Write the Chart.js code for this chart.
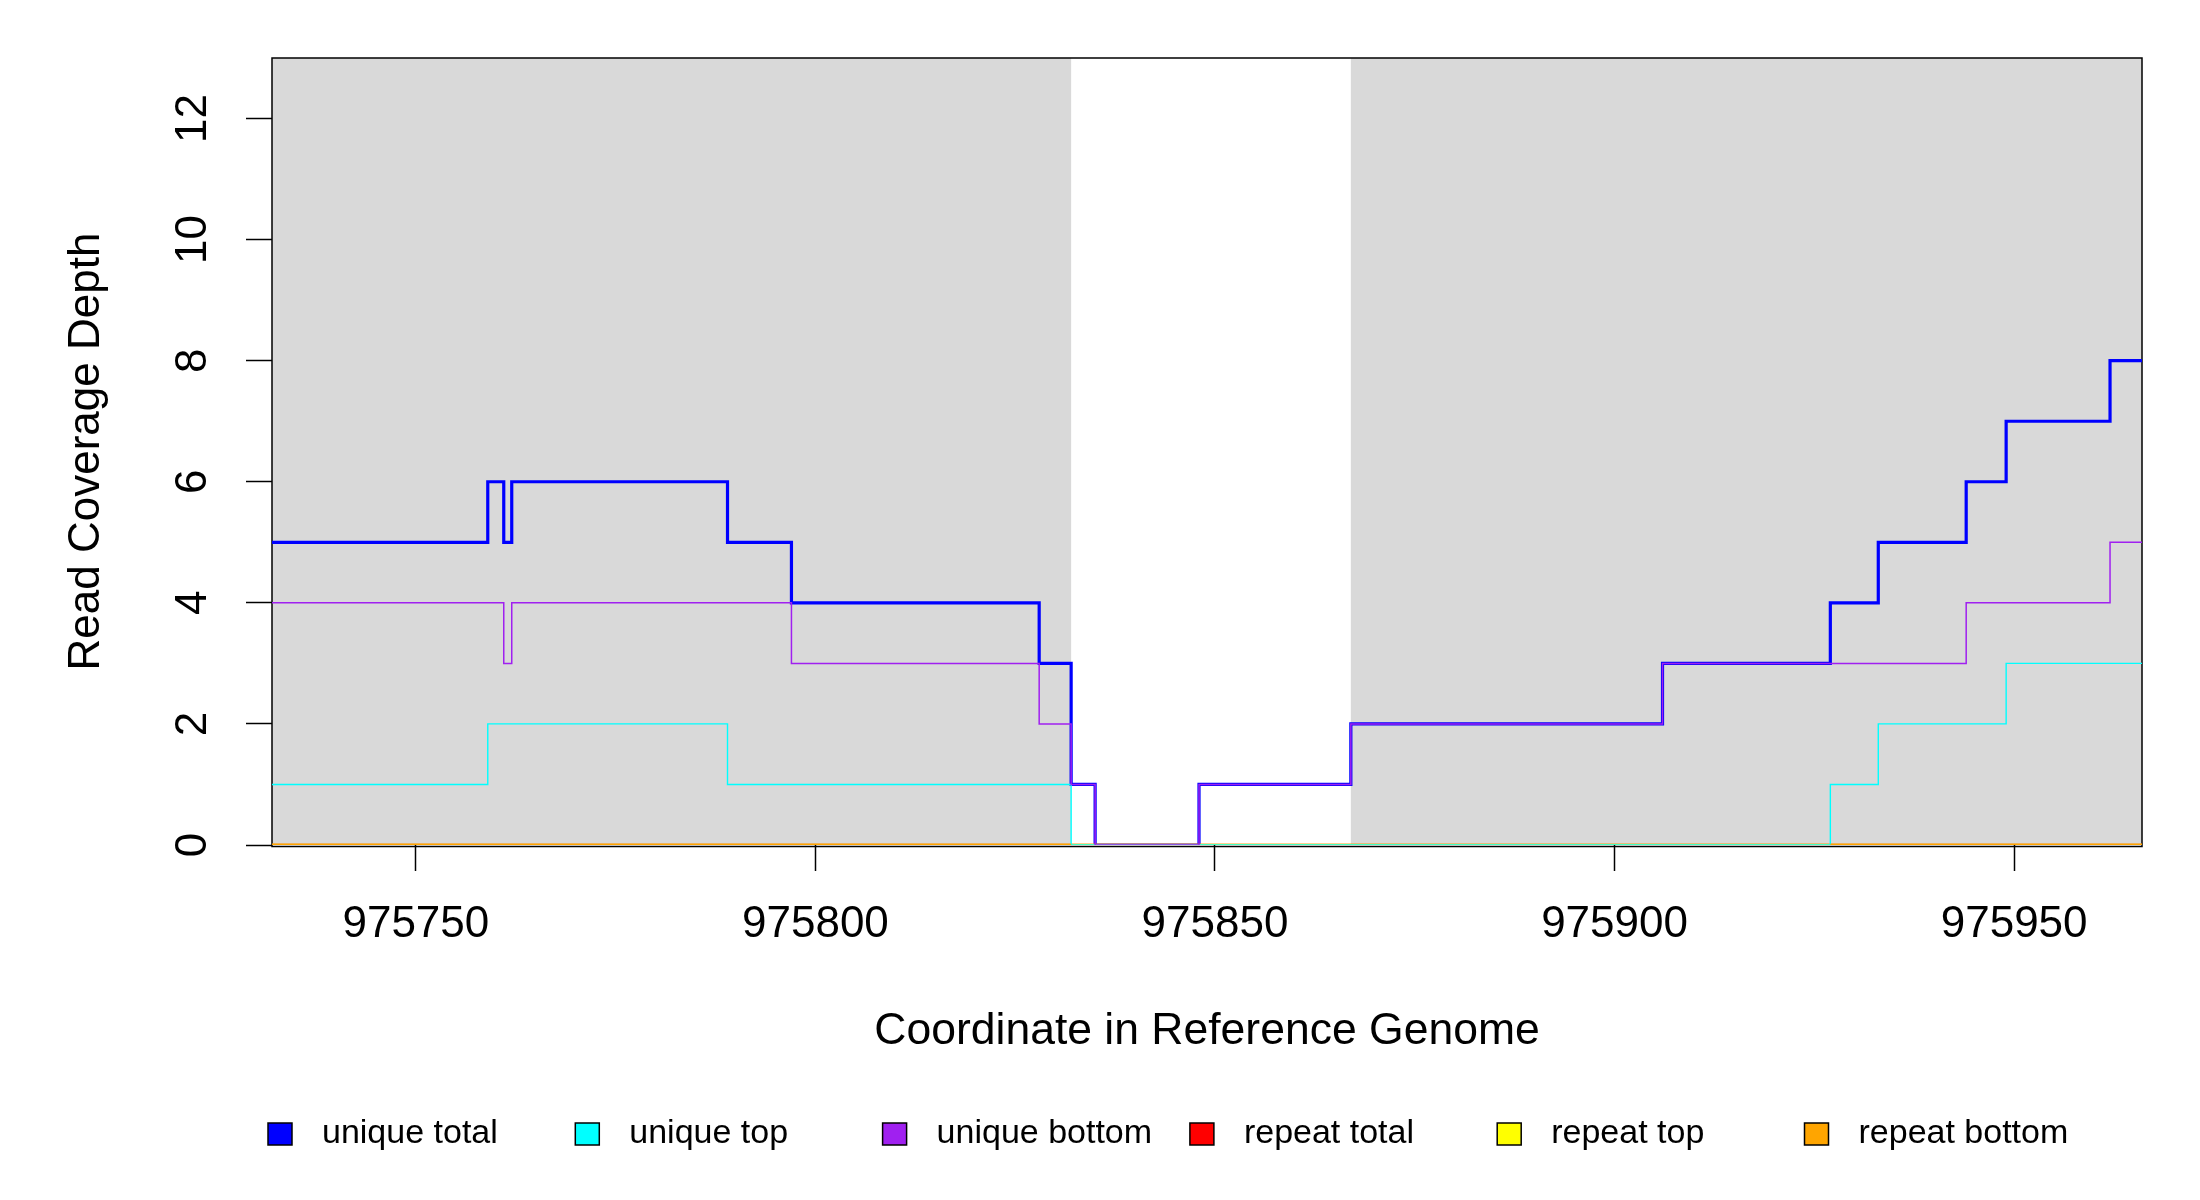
<!DOCTYPE html>
<html>
<head>
<meta charset="utf-8">
<script src="https://cdn.jsdelivr.net/npm/chart.js@4.4.1/dist/chart.umd.min.js"></script>
<style>
html, body { margin: 0; padding: 0; background: #fff; }
#grafico { display: block; }
</style>
</head>
<body>
<canvas id="grafico" width="2200" height="1200" style="width:2200px;height:1200px"></canvas>
<script>
/* Cobertura de leituras em degraus, com regiões sombreadas (estilo gráfico do R). */
(function () {
    "use strict";

    var FONTE = "'Liberation Sans', Arial, Helvetica, sans-serif";

    // eixos
    var X_MIN = 975732, X_MAX = 975966;
    var Y_MIN = 0, Y_MAX = 13;
    var xTicks = [975750, 975800, 975850, 975900, 975950];
    var yTicks = [0, 2, 4, 6, 8, 10, 12];

    // regiões cinzentas
    var shadeStart = [975732, 975867];
    var shadeEnd = [975832, 975966];

    // séries (cada valor vale do x dele até o x seguinte)
    var uniqueTotalX = [975732, 975759, 975761, 975762, 975789, 975797, 975828, 975832, 975835, 975848, 975867, 975906, 975927, 975933, 975944, 975949, 975962, 975966];
    var uniqueTotalY = [5, 6, 5, 6, 5, 4, 3, 1, 0, 1, 2, 3, 4, 5, 6, 7, 8, 8];

    var uniqueTopX = [975732, 975759, 975789, 975832, 975927, 975933, 975949, 975966];
    var uniqueTopY = [1, 2, 1, 0, 1, 2, 3, 3];

    var uniqueBottomX = [975732, 975761, 975762, 975797, 975828, 975832, 975835, 975848, 975867, 975906, 975944, 975962, 975966];
    var uniqueBottomY = [4, 3, 4, 3, 2, 1, 0, 1, 2, 3, 4, 5, 5];

    var repeatTotalX = [975732, 975966];
    var repeatTotalY = [0, 0];

    var repeatTopX = [975732, 975966];
    var repeatTopY = [0, 0];

    var repeatBottomX = [975732, 975832, 975832, 975927, 975966];
    var repeatBottomY = [0, 0, null, 0, 0];

    var seriesNames = ["unique total", "unique top", "unique bottom", "repeat total", "repeat top", "repeat bottom"];
    var seriesColors = ["#0000FF", "#00FFFF", "#A020F0", "#FF0000", "#FFFF00", "#FFA500"];

    function pts(xs, ys) {
        return xs.map(function (x, i) { return { x: x, y: ys[i] }; });
    }

    function serie(i, xs, ys, largura, ordem) {
        return {
            label: seriesNames[i],
            data: pts(xs, ys),
            borderColor: seriesColors[i],
            backgroundColor: seriesColors[i],
            borderWidth: largura,
            stepped: "before",
            pointRadius: 0,
            fill: false,
            spanGaps: false,
            order: ordem
        };
    }

    // fundo cinza + moldura, antes das linhas (as linhas ficam por cima)
    var sombra = {
        id: "sombra",
        beforeDatasetsDraw: function (chart) {
            var ctx = chart.ctx, a = chart.chartArea, xs = chart.scales.x;
            ctx.save();
            ctx.fillStyle = "#D9D9D9";
            shadeStart.forEach(function (s, i) {
                var x0 = xs.getPixelForValue(s), x1 = xs.getPixelForValue(shadeEnd[i]);
                ctx.fillRect(x0, a.top, x1 - x0, a.bottom - a.top);
            });
            ctx.strokeStyle = "#000";
            ctx.lineWidth = 1.5;
            ctx.strokeRect(a.left, a.top, a.right - a.left, a.bottom - a.top + 1.5);
            ctx.restore();
        }
    };

    // rótulos do eixo y girados, como no R
    var rotulosY = {
        id: "rotulosY",
        afterDraw: function (chart) {
            var ctx = chart.ctx, ys = chart.scales.y;
            ctx.save();
            ctx.fillStyle = "#000";
            ctx.font = "44px " + FONTE;
            ctx.textAlign = "center";
            ctx.textBaseline = "middle";
            ys.ticks.forEach(function (t) {
                ctx.save();
                ctx.translate(194, ys.getPixelForValue(t.value));
                ctx.rotate(-Math.PI / 2);
                ctx.fillText(String(t.value), 0, 0);
                ctx.restore();
            });
            ctx.restore();
        }
    };

    // legenda horizontal com espaçamento fixo
    var legenda = {
        id: "legenda",
        afterDraw: function (chart) {
            var ctx = chart.ctx;
            var x0 = 268, passo = 307.3, yc = 1134;
            ctx.save();
            ctx.font = "34px " + FONTE;
            ctx.textAlign = "left";
            ctx.textBaseline = "middle";
            chart.data.datasets.forEach(function (ds, i) {
                var x = x0 + i * passo;
                ctx.fillStyle = ds.borderColor;
                ctx.fillRect(x, yc - 11, 24, 22);
                ctx.strokeStyle = "#000";
                ctx.lineWidth = 1.5;
                ctx.strokeRect(x, yc - 11, 24, 22);
                ctx.fillStyle = "#000";
                ctx.fillText(ds.label, x + 54, yc);
            });
            ctx.restore();
        }
    };

    var gradeTicks = { display: true, drawOnChartArea: false, drawTicks: true, tickLength: 26, tickColor: "#000", tickWidth: 1.5 };

    new Chart(document.getElementById("grafico"), {
        type: "line",
        data: {
            datasets: [
                serie(0, uniqueTotalX, uniqueTotalY, 3.2, 5),
                serie(1, uniqueTopX, uniqueTopY, 1.4, 2),
                serie(2, uniqueBottomX, uniqueBottomY, 1.5, 1),
                serie(3, repeatTotalX, repeatTotalY, 2.5, 4),
                serie(4, repeatTopX, repeatTopY, 2.5, 3),
                serie(5, repeatBottomX, repeatBottomY, 2.5, 0)
            ]
        },
        options: {
            responsive: false,
            devicePixelRatio: 1,
            animation: false,
            layout: { padding: { left: 0, top: 58, right: 58, bottom: 100 } },
            plugins: { legend: { display: false }, tooltip: { enabled: false } },
            scales: {
                x: {
                    type: "linear",
                    min: X_MIN, max: X_MAX,
                    afterBuildTicks: function (s) { s.ticks = xTicks.map(function (v) { return { value: v }; }); },
                    afterFit: function (s) { s.height = 255; },
                    border: { display: false },
                    grid: gradeTicks,
                    ticks: {
                        color: "#000", font: { family: FONTE, size: 44 }, padding: 27,
                        maxRotation: 0, autoSkip: false,
                        callback: function (v) { return String(v); }
                    },
                    title: {
                        display: true, text: "Coordinate in Reference Genome", color: "#000",
                        font: { family: FONTE, size: 44.5 }, padding: { top: 0, bottom: 41.6 }
                    }
                },
                y: {
                    type: "linear",
                    min: Y_MIN, max: Y_MAX,
                    afterBuildTicks: function (s) { s.ticks = yTicks.map(function (v) { return { value: v }; }); },
                    afterFit: function (s) { s.width = 272; },
                    border: { display: false },
                    grid: gradeTicks,
                    ticks: { display: false },
                    title: {
                        display: true, text: "Read Coverage Depth", color: "#000",
                        font: { family: FONTE, size: 44 }, padding: { top: 60, bottom: 0 }
                    }
                }
            }
        },
        plugins: [sombra, rotulosY, legenda]
    });
})();
</script>
</body>
</html>
